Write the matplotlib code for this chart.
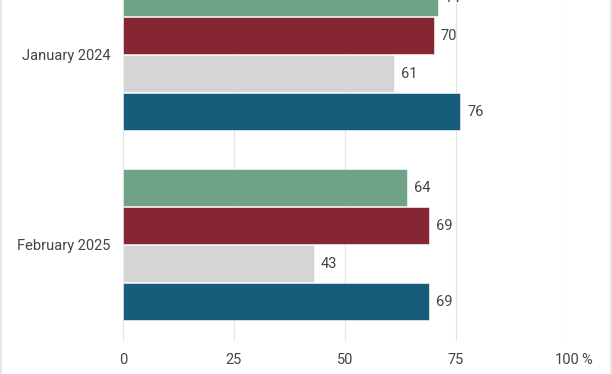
import numpy as np
import matplotlib.pyplot as plt
from matplotlib.lines import Line2D

plt.rcParams['font.family'] = ['Roboto', 'DejaVu Sans']

# dados
periodos = ["January 2024", "February 2025"]
series = ["Series 1", "Series 2", "Series 3", "Series 4"]
valores = {
    "Series 1": [71, 64],
    "Series 2": [70, 69],
    "Series 3": [61, 43],
    "Series 4": [76, 69],
}
cores = ["#6fa287", "#862633", "#d5d5d5", "#175c7a"]
xticks = [0, 25, 50, 75, 100]
xticklabels = ["0", "25", "50", "75", "100"]

cor_texto = "#444444"
cor_grade = "#e4e4e4"

fig = plt.figure(figsize=(6.12, 3.74), dpi=100)
# eixo propositalmente maior que a figura no topo (grafico recortado)
ax = fig.add_axes([123 / 612, 33 / 374, 444 / 612, 366 / 374])

grupo = np.arange(len(periodos)) * 5.0
offsets = [-1.5, -0.5, 0.5, 1.5]
for serie, cor, off in zip(series, cores, offsets):
    ys = grupo + off
    vals = valores[serie]
    ax.barh(ys, vals, height=0.98, color=cor, edgecolor="white", linewidth=0.4, zorder=3)
    for y, v in zip(ys, vals):
        ax.annotate(str(v), (v, y), xytext=(5, 0), textcoords="offset points",
                    ha="left", va="center", fontsize=10.5, color=cor_texto)

ax.set_xlim(0, 100)
ax.set_ylim((341 - 54.5) / 38, (-25 - 54.5) / 38)
ax.set_xticks(xticks)
ax.set_xticklabels(xticklabels)
ax.set_yticks(grupo)
ax.set_yticklabels(periodos)
ax.tick_params(axis="x", length=0, pad=8.5, labelsize=10.5, labelcolor=cor_texto)
ax.tick_params(axis="y", length=0, pad=9, labelsize=10.5, labelcolor=cor_texto)
ax.grid(axis="x", color=cor_grade, linewidth=0.9, zorder=0)
for s in ax.spines.values():
    s.set_visible(False)

ax.annotate("%", (100, 0), xycoords=("data", "axes fraction"), xytext=(10, -8.5),
            textcoords="offset points", ha="left", va="top", fontsize=10.5, color=cor_texto,
            annotation_clip=False)

# bordas laterais
for x in [1 / 612, 611 / 612]:
    fig.add_artist(Line2D([x, x], [0, 1], transform=fig.transFigure, color="#e2e2e2", linewidth=1.2))

fig.savefig("out.png", dpi=100)
